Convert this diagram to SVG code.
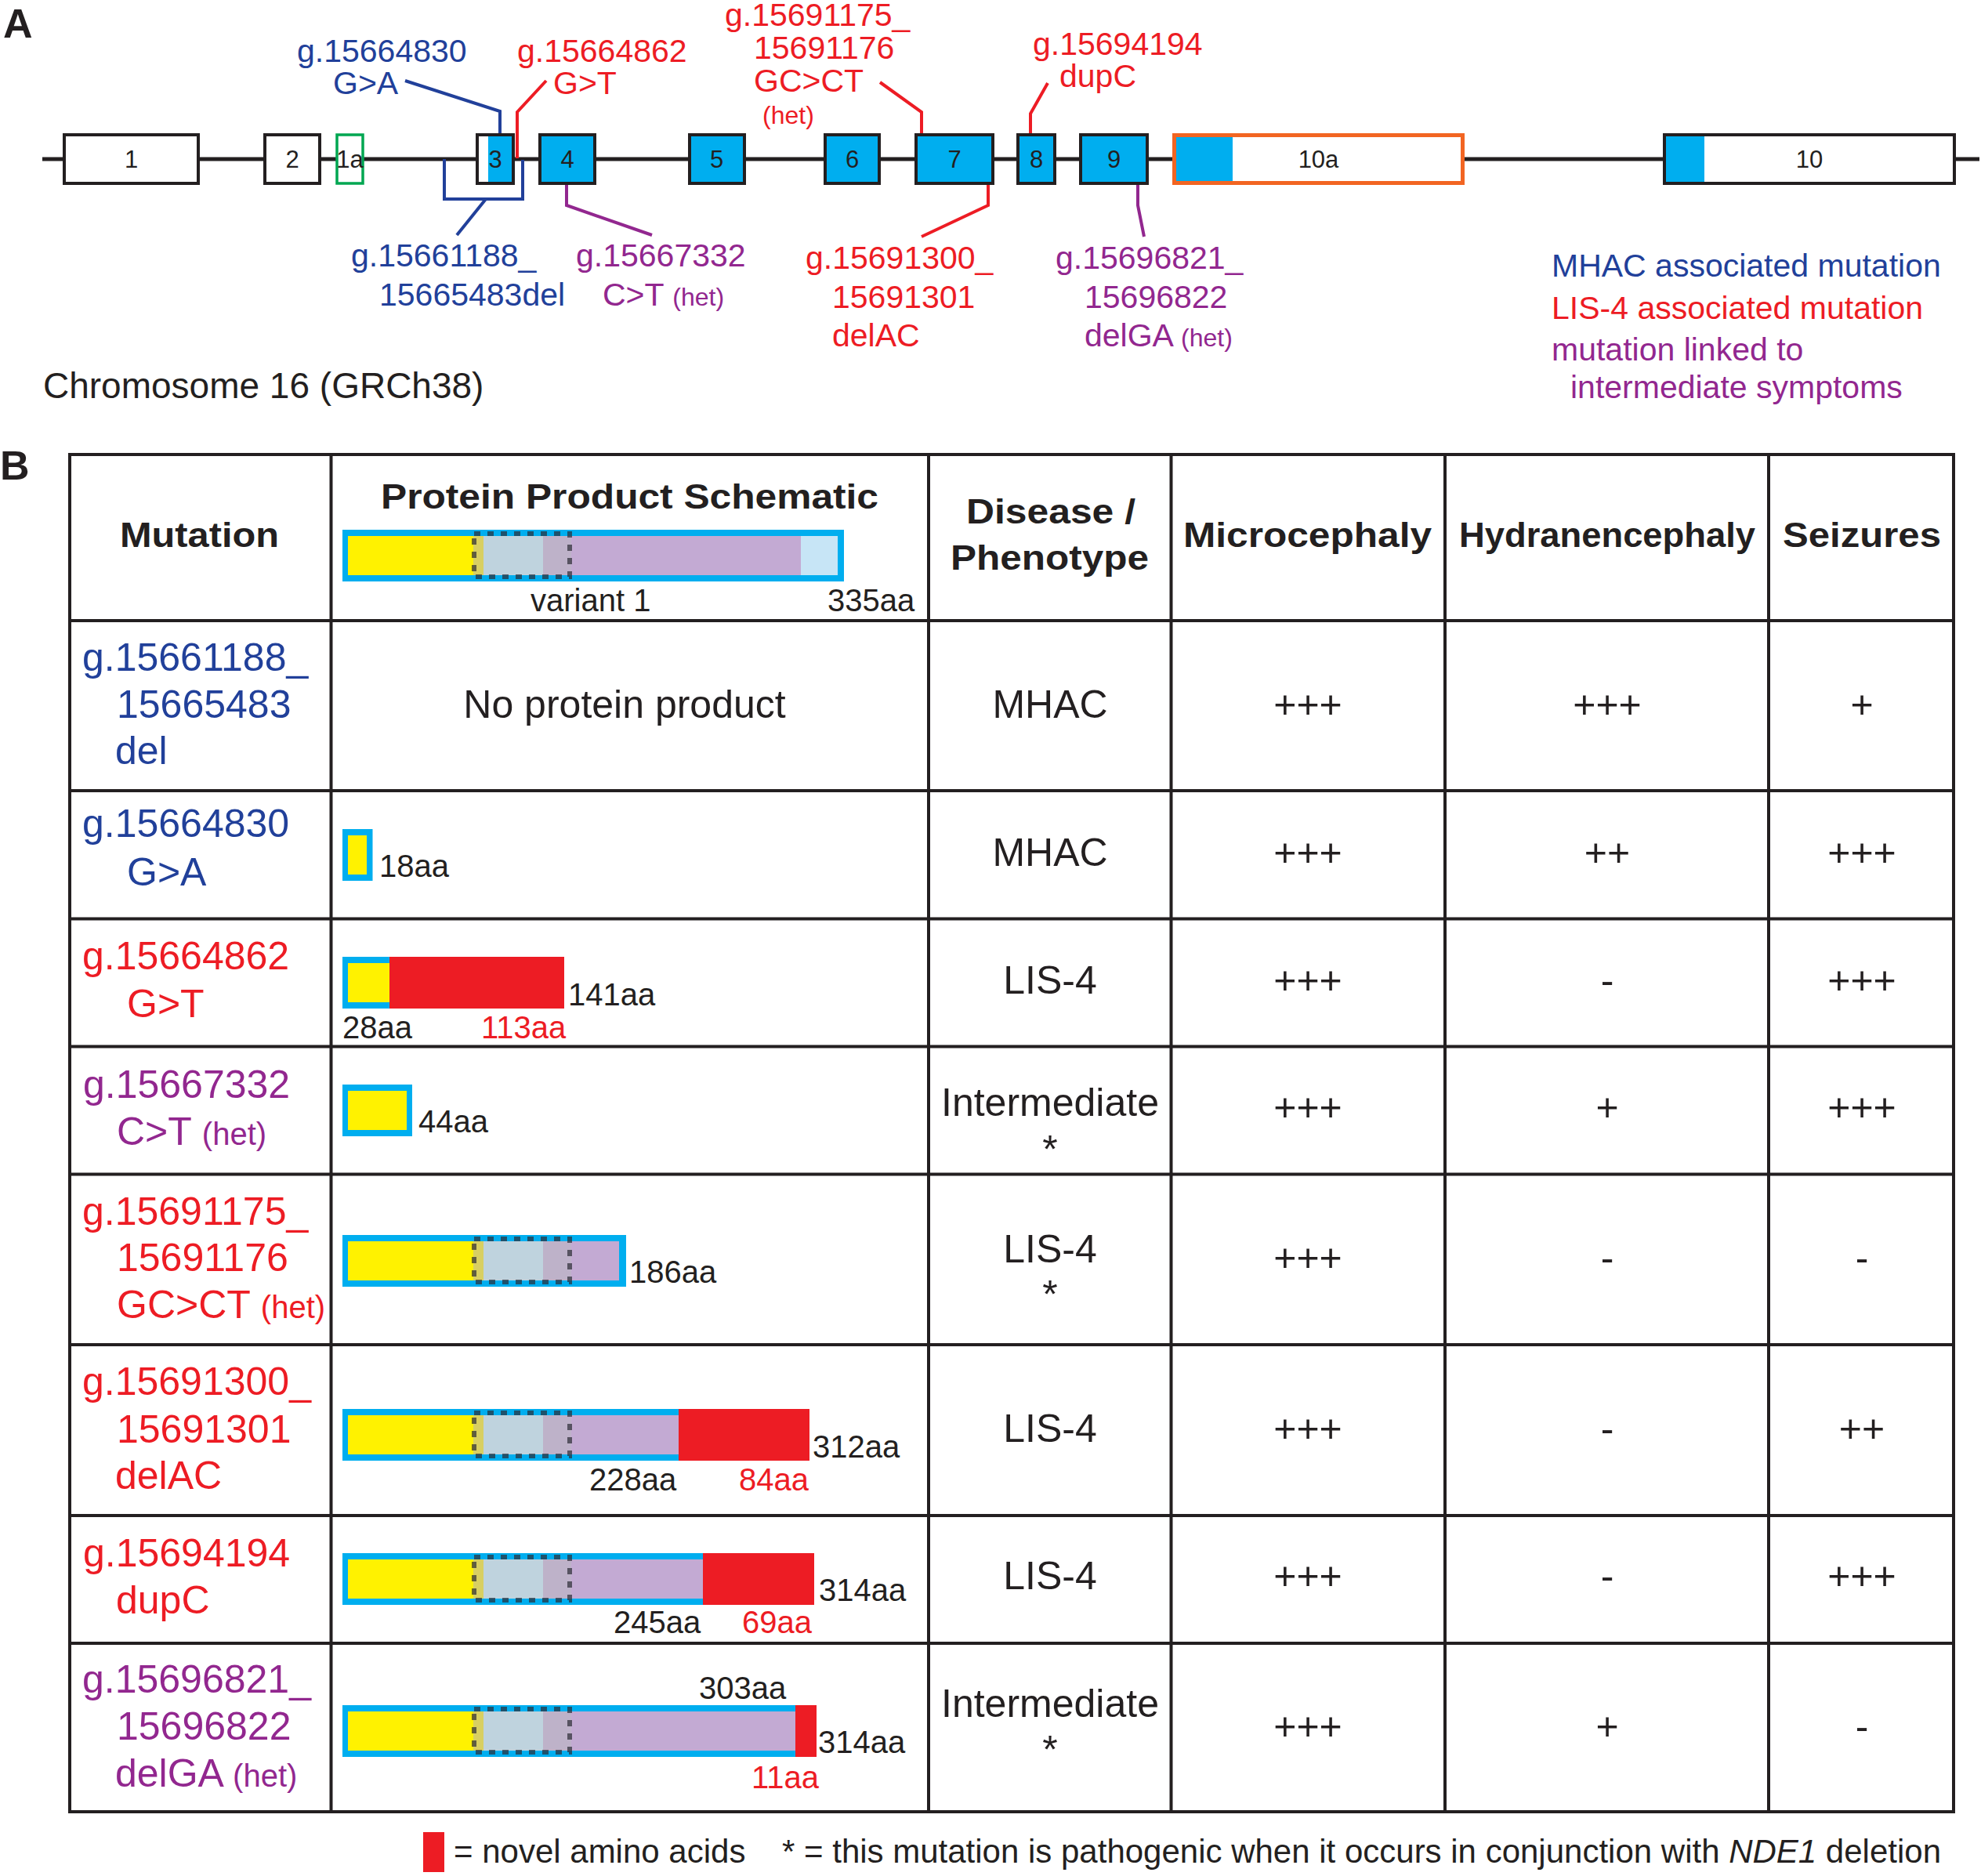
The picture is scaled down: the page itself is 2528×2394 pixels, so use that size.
<svg xmlns="http://www.w3.org/2000/svg" width="2528" height="2394" viewBox="0 0 2528 2394">
<style>
text{font-family:"Liberation Sans",Arial,Helvetica,sans-serif}
.lbl{font-size:41px}
.sm{font-size:32px}
.ex{font-size:31px;fill:#231f20;text-anchor:middle}
.blue{fill:#21409a}
.red{fill:#ed1c24}
.pur{fill:#92278f}
.blk{fill:#231f20}
.exon{fill:#00aeef;stroke:#231f20;stroke-width:4}
.wexon{fill:#fff;stroke:#231f20;stroke-width:4}
.ln{fill:none;stroke-width:4}
.lb{stroke:#21409a}.lr{stroke:#ed1c24}.lp{stroke:#92278f}
.hd{font-size:45px;font-weight:bold;fill:#231f20}
.c1{font-size:50px}
.h40{font-size:40px}
.cell{font-size:50px;fill:#231f20;text-anchor:middle}
.aa{font-size:40px;fill:#231f20}
.aar{font-size:40px;fill:#ed1c24}
.ft{font-size:42px;fill:#231f20}
.grid{stroke:#231f20;stroke-width:4;fill:none}
.dot{fill:none;stroke:#2b2b35;stroke-opacity:.7;stroke-width:6;stroke-dasharray:8 9}
.cb{fill:#00aeef}.yl{fill:#fff200}.lv{fill:#c3aad3}.rd{fill:#ed1c24}
</style>
<defs>
<g id="core">
<rect x="444" y="8" width="160" height="50" fill="#fff200"/>
<rect x="604" y="8" width="13" height="50" fill="#d8cf62"/>
<rect x="617" y="8" width="76" height="50" fill="#bfd3de"/>
<rect x="693" y="8" width="36" height="50" fill="#beb2c9"/>
</g>
<rect id="dots" x="605" y="5" width="122" height="55" class="dot"/>
</defs>
<rect x="0" y="0" width="2528" height="2394" fill="#fff"/>

<!-- Panel A -->
<text x="4" y="48" font-size="52" font-weight="bold" class="blk">A</text>
<g id="chromosome">
<line x1="54" y1="203" x2="2526" y2="203" stroke="#231f20" stroke-width="5"/>
</g>
<g id="exon1"><rect x="82" y="172" width="171" height="62" class="wexon"/><text x="167.5" y="214" class="ex">1</text></g>
<g id="exon2"><rect x="338" y="172" width="70" height="62" class="wexon"/><text x="373" y="214" class="ex">2</text></g>
<g id="exon1a"><rect x="430" y="172" width="33" height="62" fill="#fff" stroke="#00a651" stroke-width="3.5"/><text x="446.5" y="214" class="ex">1a</text></g>
<g id="exon3"><rect x="609" y="172" width="46" height="62" class="wexon"/><rect x="623" y="174" width="32" height="58" fill="#00aeef"/><rect x="609" y="172" width="46" height="62" fill="none" stroke="#231f20" stroke-width="4"/><text x="632" y="214" class="ex">3</text></g>
<g id="exon4"><rect x="689" y="172" width="70" height="62" class="exon"/><text x="724" y="214" class="ex">4</text></g>
<g id="exon5"><rect x="880" y="172" width="70" height="62" class="exon"/><text x="914.5" y="214" class="ex">5</text></g>
<g id="exon6"><rect x="1053" y="172" width="69" height="62" class="exon"/><text x="1087.5" y="214" class="ex">6</text></g>
<g id="exon7"><rect x="1169" y="172" width="98" height="62" class="exon"/><text x="1218" y="214" class="ex">7</text></g>
<g id="exon8"><rect x="1299" y="172" width="47" height="62" class="exon"/><text x="1322.5" y="214" class="ex">8</text></g>
<g id="exon9"><rect x="1379" y="172" width="85" height="62" class="exon"/><text x="1421.5" y="214" class="ex">9</text></g>
<g id="exon10a"><rect x="1498.5" y="172.5" width="368" height="61" fill="#fff"/><rect x="1498" y="172" width="75" height="62" fill="#00aeef"/><rect x="1498.5" y="172.5" width="368" height="61" fill="none" stroke="#f26522" stroke-width="5"/><text x="1682.5" y="214" class="ex">10a</text></g>
<g id="exon10"><rect x="2124" y="172" width="370" height="62" fill="#fff"/><rect x="2124" y="172" width="51" height="62" fill="#00aeef"/><rect x="2124" y="172" width="370" height="62" fill="none" stroke="#231f20" stroke-width="4"/><text x="2309" y="214" class="ex">10</text></g>

<g id="connectors">
<polyline class="ln lb" points="517,103 638,142 638,170"/>
<polyline class="ln lr" points="697,103 660,143 660,202"/>
<polyline class="ln lb" points="567,203 567,254 667,254 667,204"/>
<polyline class="ln lb" points="620,254 583,300"/>
<polyline class="ln lp" points="723,236 723,262 832,300"/>
<polyline class="ln lr" points="1123,105 1176,143 1176,170"/>
<polyline class="ln lr" points="1337,106 1315,145 1315,170"/>
<polyline class="ln lr" points="1261,236 1261,262 1176,302"/>
<polyline class="ln lp" points="1452,236 1452,262 1460,302"/>
</g>

<g id="mut-a1" class="lbl blue"><text x="379" y="79">g.15664830</text><text x="425" y="120">G&gt;A</text></g>
<g id="mut-a2" class="lbl red"><text x="660" y="79">g.15664862</text><text x="706" y="120">G&gt;T</text></g>
<g id="mut-a3" class="lbl red"><text x="925" y="33">g.15691175_</text><text x="962" y="75">15691176</text><text x="962" y="117">GC&gt;CT</text><text x="973" y="158" class="sm">(het)</text></g>
<g id="mut-a4" class="lbl red"><text x="1318" y="70">g.15694194</text><text x="1352" y="111">dupC</text></g>
<g id="mut-a5" class="lbl blue"><text x="448" y="340">g.15661188_</text><text x="484" y="390">15665483del</text></g>
<g id="mut-a6" class="lbl pur"><text x="735" y="340">g.15667332</text><text x="769" y="390">C&gt;T <tspan class="sm">(het)</tspan></text></g>
<g id="mut-a7" class="lbl red"><text x="1028" y="343">g.15691300_</text><text x="1062" y="393">15691301</text><text x="1062" y="442">delAC</text></g>
<g id="mut-a8" class="lbl pur"><text x="1347" y="343">g.15696821_</text><text x="1384" y="393">15696822</text><text x="1384" y="442">delGA <tspan class="sm">(het)</tspan></text></g>
<text x="55" y="508" font-size="46" class="blk">Chromosome 16 (GRCh38)</text>
<g id="legend-a" class="lbl">
<text x="1980" y="353" class="blue">MHAC associated mutation</text>
<text x="1980" y="407" class="red">LIS-4 associated mutation</text>
<text x="1980" y="460" class="pur">mutation linked to</text>
<text x="2004" y="508" class="pur">intermediate symptoms</text>
</g>

<!-- Panel B -->
<text x="0" y="612" font-size="52" font-weight="bold" class="blk">B</text>
<g id="table-grid">
<rect x="89" y="580" width="2404" height="1732" class="grid"/>
<line x1="422.5" y1="580" x2="422.5" y2="2312" class="grid"/>
<line x1="1185" y1="580" x2="1185" y2="2312" class="grid"/>
<line x1="1494.5" y1="580" x2="1494.5" y2="2312" class="grid"/>
<line x1="1844" y1="580" x2="1844" y2="2312" class="grid"/>
<line x1="2257" y1="580" x2="2257" y2="2312" class="grid"/>
<line x1="89" y1="792" x2="2493" y2="792" class="grid" stroke-width="5"/>
<line x1="89" y1="1009" x2="2493" y2="1009" class="grid"/>
<line x1="89" y1="1172.5" x2="2493" y2="1172.5" class="grid"/>
<line x1="89" y1="1335.5" x2="2493" y2="1335.5" class="grid"/>
<line x1="89" y1="1498.5" x2="2493" y2="1498.5" class="grid"/>
<line x1="89" y1="1716" x2="2493" y2="1716" class="grid"/>
<line x1="89" y1="1934" x2="2493" y2="1934" class="grid"/>
<line x1="89" y1="2097" x2="2493" y2="2097" class="grid"/>
</g>

<g id="header">
<text x="254.5" y="698" class="hd" text-anchor="middle" textLength="203" lengthAdjust="spacingAndGlyphs">Mutation</text>
<text x="803.5" y="649" class="hd" text-anchor="middle" textLength="635" lengthAdjust="spacingAndGlyphs">Protein Product Schematic</text>
<text x="1341" y="668" class="hd" text-anchor="middle" textLength="216" lengthAdjust="spacingAndGlyphs">Disease /</text>
<text x="1339.5" y="727" class="hd" text-anchor="middle" textLength="253" lengthAdjust="spacingAndGlyphs">Phenotype</text>
<text x="1668.5" y="698" class="hd" text-anchor="middle" textLength="317" lengthAdjust="spacingAndGlyphs">Microcephaly</text>
<text x="2051" y="698" class="hd" text-anchor="middle" textLength="378" lengthAdjust="spacingAndGlyphs">Hydranencephaly</text>
<text x="2376" y="698" class="hd" text-anchor="middle" textLength="202" lengthAdjust="spacingAndGlyphs">Seizures</text>
<g id="bar-variant1" transform="translate(0,676)">
<rect x="437" y="0" width="640" height="66" class="cb"/>
<rect x="444" y="8" width="578" height="50" class="lv"/>
<rect x="1022" y="8" width="47" height="50" fill="#c7e5f6"/>
<use href="#core"/><use href="#dots"/>
</g>
<text x="677" y="780" class="aa">variant 1</text>
<text x="1056" y="780" class="aa">335aa</text>
</g>

<g id="row1">
<text x="105" y="856" class="c1 blue">g.15661188_</text>
<text x="149" y="916" class="c1 blue">15665483</text>
<text x="147" y="975" class="c1 blue">del</text>
<text x="797" y="916" class="cell">No protein product</text>
<text x="1340" y="916" class="cell">MHAC</text>
<text x="1669" y="916" class="cell">+++</text>
<text x="2051" y="916" class="cell">+++</text>
<text x="2376" y="916" class="cell">+</text>
</g>

<g id="row2">
<text x="105" y="1068" class="c1 blue">g.15664830</text>
<text x="162" y="1130" class="c1 blue">G&gt;A</text>
<rect x="437" y="1058" width="38.5" height="66" class="cb"/>
<rect x="444" y="1066" width="24" height="50" class="yl"/>
<text x="484" y="1119" class="aa">18aa</text>
<text x="1340" y="1105" class="cell">MHAC</text>
<text x="1669" y="1105" class="cell">+++</text>
<text x="2051" y="1105" class="cell">++</text>
<text x="2376" y="1105" class="cell">+++</text>
</g>

<g id="row3">
<text x="105" y="1237" class="c1 red">g.15664862</text>
<text x="162" y="1298" class="c1 red">G&gt;T</text>
<rect x="437" y="1221" width="60" height="66" class="cb"/>
<rect x="444" y="1229" width="53" height="50" class="yl"/>
<rect x="497" y="1221" width="223" height="66" class="rd"/>
<text x="725" y="1283" class="aa">141aa</text>
<text x="437" y="1325" class="aa">28aa</text>
<text x="614" y="1325" class="aar">113aa</text>
<text x="1340" y="1268" class="cell">LIS-4</text>
<text x="1669" y="1268" class="cell">+++</text>
<text x="2051" y="1268" class="cell">-</text>
<text x="2376" y="1268" class="cell">+++</text>
</g>

<g id="row4">
<text x="106" y="1401" class="c1 pur">g.15667332</text>
<text x="149" y="1461" class="c1 pur">C&gt;T <tspan class="h40">(het)</tspan></text>
<rect x="437" y="1384" width="89" height="66" class="cb"/>
<rect x="444" y="1392" width="75" height="50" class="yl"/>
<text x="534" y="1445" class="aa">44aa</text>
<text x="1340" y="1424" class="cell">Intermediate</text>
<text x="1340" y="1484" class="cell">*</text>
<text x="1669" y="1430" class="cell">+++</text>
<text x="2051" y="1430" class="cell">+</text>
<text x="2376" y="1430" class="cell">+++</text>
</g>

<g id="row5">
<text x="105" y="1563" class="c1 red">g.15691175_</text>
<text x="149" y="1622" class="c1 red">15691176</text>
<text x="149" y="1682" class="c1 red">GC&gt;CT <tspan class="h40">(het)</tspan></text>
<g transform="translate(0,1576)">
<rect x="437" y="0" width="362" height="66" class="cb"/>
<rect x="444" y="8" width="346" height="50" class="lv"/>
<use href="#core"/><use href="#dots"/>
</g>
<text x="803" y="1637" class="aa">186aa</text>
<text x="1340" y="1611" class="cell">LIS-4</text>
<text x="1340" y="1669" class="cell">*</text>
<text x="1669" y="1622" class="cell">+++</text>
<text x="2051" y="1622" class="cell">-</text>
<text x="2376" y="1622" class="cell">-</text>
</g>

<g id="row6">
<text x="105" y="1780" class="c1 red">g.15691300_</text>
<text x="149" y="1841" class="c1 red">15691301</text>
<text x="147" y="1900" class="c1 red">delAC</text>
<g transform="translate(0,1798)">
<rect x="437" y="0" width="429" height="66" class="cb"/>
<rect x="444" y="8" width="422" height="50" class="lv"/>
<use href="#core"/><use href="#dots"/>
<rect x="866" y="0" width="167" height="66" class="rd"/>
</g>
<text x="1037" y="1860" class="aa">312aa</text>
<text x="752" y="1902" class="aa">228aa</text>
<text x="943" y="1902" class="aar">84aa</text>
<text x="1340" y="1840" class="cell">LIS-4</text>
<text x="1669" y="1840" class="cell">+++</text>
<text x="2051" y="1840" class="cell">-</text>
<text x="2376" y="1840" class="cell">++</text>
</g>

<g id="row7">
<text x="106" y="1999" class="c1 red">g.15694194</text>
<text x="148" y="2059" class="c1 red">dupC</text>
<g transform="translate(0,1982)">
<rect x="437" y="0" width="460" height="66" class="cb"/>
<rect x="444" y="8" width="453" height="50" class="lv"/>
<use href="#core"/><use href="#dots"/>
<rect x="897" y="0" width="142" height="66" class="rd"/>
</g>
<text x="1045" y="2043" class="aa">314aa</text>
<text x="783" y="2084" class="aa">245aa</text>
<text x="947" y="2084" class="aar">69aa</text>
<text x="1340" y="2028" class="cell">LIS-4</text>
<text x="1669" y="2028" class="cell">+++</text>
<text x="2051" y="2028" class="cell">-</text>
<text x="2376" y="2028" class="cell">+++</text>
</g>

<g id="row8">
<text x="105" y="2160" class="c1 pur">g.15696821_</text>
<text x="149" y="2220" class="c1 pur">15696822</text>
<text x="147" y="2280" class="c1 pur">delGA <tspan class="h40">(het)</tspan></text>
<g transform="translate(0,2176)">
<rect x="437" y="0" width="578" height="66" class="cb"/>
<rect x="444" y="8" width="571" height="50" class="lv"/>
<use href="#core"/><use href="#dots"/>
<rect x="1015" y="0" width="27" height="66" class="rd"/>
</g>
<text x="892" y="2168" class="aa">303aa</text>
<text x="1044" y="2237" class="aa">314aa</text>
<text x="959" y="2282" class="aar">11aa</text>
<text x="1340" y="2191" class="cell">Intermediate</text>
<text x="1340" y="2250" class="cell">*</text>
<text x="1669" y="2220" class="cell">+++</text>
<text x="2051" y="2220" class="cell">+</text>
<text x="2376" y="2220" class="cell">-</text>
</g>

<g id="legend-b">
<rect x="540" y="2338" width="27" height="51" class="rd"/>
<text x="579" y="2377" class="ft">= novel amino acids</text>
<text x="998" y="2377" class="ft">* = this mutation is pathogenic when it occurs in conjunction with <tspan font-style="italic">NDE1</tspan> deletion</text>
</g>
</svg>
